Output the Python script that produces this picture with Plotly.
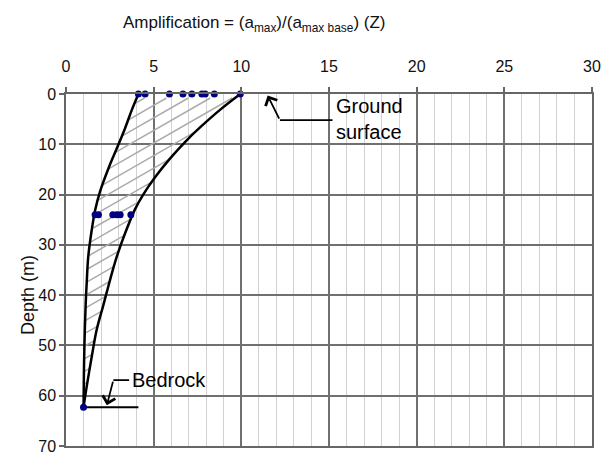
import numpy as np
import plotly.graph_objects as go

# Envelope of amplification with depth (amplification, depth in m)
left_amp = [4.13, 3.75, 3.37, 2.9, 2.42, 1.94, 1.66, 1.47, 1.27, 1.18, 1.12, 1.05, 1.02, 1.0]
left_depth = [0, 3.2, 6.8, 10.8, 14.8, 19.4, 23.1, 27.0, 32.3, 37.6, 42.0, 50.0, 56.0, 62.3]
right_amp = [9.94, 8.8, 7.66, 6.8, 5.94, 5.09, 4.42, 3.94, 3.37, 2.9, 2.51, 2.13, 1.75, 1.47, 1.18, 1.0]
right_depth = [0, 3.1, 6.6, 9.5, 12.8, 16.5, 19.9, 22.9, 27.7, 32.3, 37.0, 42.0, 46.9, 52.2, 58.2, 62.3]

# Measured amplifications
surface_amp = [4.13, 4.51, 5.9, 6.67, 7.18, 7.75, 7.94, 8.46, 9.94]
surface_depth = [0] * len(surface_amp)
mid_amp = [1.66, 1.85, 2.67, 2.9, 3.09, 3.7]
mid_depth = [24] * len(mid_amp)
bedrock_amp = [1.0]
bedrock_depth = [62.3]

FONT = "Liberation Sans, Arial, sans-serif"


def hatch_segments(l_amp, l_dep, r_amp, r_dep, slope=2.0, step=2.5, top=0.8):
    """Diagonal hatch lines (depth = c - slope*amp) spanning the band."""
    l_amp, l_dep = np.asarray(l_amp), np.asarray(l_dep)
    r_amp, r_dep = np.asarray(r_amp), np.asarray(r_dep)
    f_l = l_dep + slope * l_amp
    f_r = r_dep + slope * r_amp
    xs, ys = [], []
    c = f_l[0] + step * 0.6
    while c < f_l[-1]:
        d0 = np.interp(c, f_l, l_dep)
        a0 = np.interp(d0, l_dep, l_amp)
        d1 = max(np.interp(c, f_r, r_dep, left=top), top)
        a1 = (c - d1) / slope
        if d0 > d1:
            xs += [a0, a1, None]
            ys += [d0, d1, None]
        c += step
    return xs, ys


hx, hy = hatch_segments(left_amp, left_depth, right_amp, right_depth)

fig = go.Figure()

fig.add_trace(go.Scatter(x=hx, y=hy, mode="lines",
                         line=dict(color="#ababab", width=1.5),
                         hoverinfo="skip", showlegend=False))

for xs, ys in ((left_amp, left_depth), (right_amp, right_depth)):
    fig.add_trace(go.Scatter(
        x=xs, y=ys, mode="lines",
        line=dict(color="black", width=2.5, shape="spline", smoothing=1.0),
        showlegend=False,
    ))

# bedrock reference line and callout leaders
fig.add_trace(go.Scatter(x=[1.0, 4.13], y=[62.3, 62.3], mode="lines",
                         line=dict(color="black", width=2), showlegend=False))
fig.add_trace(go.Scatter(x=[3.6, 2.7], y=[56.9, 56.9], mode="lines",
                         line=dict(color="black", width=1.8), showlegend=False))
fig.add_trace(go.Scatter(x=[15.2, 12.2], y=[5.2, 5.2], mode="lines",
                         line=dict(color="black", width=1.8), showlegend=False))

fig.add_trace(go.Scatter(
    x=surface_amp + mid_amp + bedrock_amp,
    y=surface_depth + mid_depth + bedrock_depth,
    mode="markers", marker=dict(color="#000080", size=7),
    showlegend=False, cliponaxis=False,
))

annotations = [
    dict(x=11.5, y=0.3, ax=12.2, ay=5.2, xref="x", yref="y", axref="x", ayref="y",
         text="", showarrow=True, arrowhead=4, arrowsize=1.4, arrowwidth=1.8,
         arrowcolor="black"),
    dict(x=2.33, y=61.9, ax=2.7, ay=56.9, xref="x", yref="y", axref="x", ayref="y",
         text="", showarrow=True, arrowhead=4, arrowsize=1.4, arrowwidth=1.8,
         arrowcolor="black"),
    dict(x=15.3, y=5.0, xref="x", yref="y", text="Ground<br>surface",
         showarrow=False, xanchor="left", yanchor="middle", align="left",
         font=dict(family=FONT, size=20, color="black")),
    dict(x=3.65, y=56.9, xref="x", yref="y", text="Bedrock",
         showarrow=False, xanchor="left", yanchor="middle",
         font=dict(family=FONT, size=20, color="black")),
    dict(x=0.359, y=1.2, xref="paper", yref="paper",
         text="Amplification = (a<sub>max</sub>)/(a<sub>max base</sub>) (Z)",
         showarrow=False, xanchor="center", yanchor="middle",
         font=dict(family=FONT, size=17, color="#111")),
    dict(x=-0.0722, y=0.429, xref="paper", yref="paper", text="Depth (m)",
         textangle=-90, showarrow=False, xanchor="center", yanchor="middle",
         font=dict(family=FONT, size=18, color="#111")),
]

fig.update_layout(
    width=603, height=458,
    margin=dict(l=66, r=11, t=94, b=12),
    paper_bgcolor="white", plot_bgcolor="white",
    font=dict(family=FONT, size=16, color="#111"),
    annotations=annotations,
    showlegend=False,
    xaxis=dict(
        side="top", range=[0, 30], tick0=0, dtick=5, automargin=False,
        ticks="outside", ticklen=5, tickcolor="#666", tickwidth=1.5,
        ticklabelstandoff=9,
        showline=True, linecolor="#666", linewidth=1.5, mirror=True,
        showgrid=True, gridcolor="#707070", gridwidth=1.5, zeroline=False,
        minor=dict(dtick=1, showgrid=True, gridcolor="#d2d2d2", gridwidth=1),
        tickfont=dict(family=FONT, size=16, color="#111"),
    ),
    yaxis=dict(
        range=[70, 0], tick0=0, dtick=10, automargin=False,
        ticks="outside", ticklen=5, tickcolor="#666", tickwidth=1.5,
        showline=True, linecolor="#666", linewidth=1.5, mirror=True,
        showgrid=True, gridcolor="#707070", gridwidth=1.5, zeroline=False,
        tickfont=dict(family=FONT, size=16, color="#111"),
    ),
)

fig.write_html("out.html")
